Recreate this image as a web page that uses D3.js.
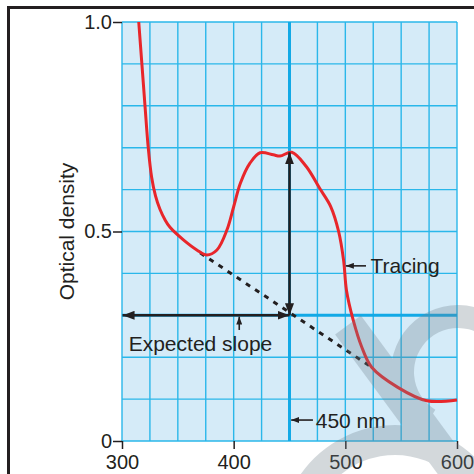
<!DOCTYPE html>
<html>
<head>
<meta charset="utf-8">
<script src="https://cdn.jsdelivr.net/npm/d3@7"></script>
<style>
  body { margin: 0; background: #fff; }
  svg { display: block; font-family: "Liberation Sans", Arial, sans-serif; }
</style>
</head>
<body>
<svg width="474" height="474"></svg>
<script>
// absorption tracing
var wavelength = [315, 317.8, 320.6, 323.5, 326.5, 330, 334, 338.5, 343, 355, 367, 376, 385, 394, 400, 406, 414.6, 423.6, 435.5, 441.5, 452, 465, 477, 487, 494, 498.5, 501, 507, 514.6, 523.6, 547, 573, 600];
var density    = [1.0, 0.9, 0.8, 0.7, 0.63, 0.585, 0.553, 0.528, 0.51, 0.48, 0.456, 0.444, 0.456, 0.504, 0.559, 0.615, 0.663, 0.688, 0.683, 0.680, 0.689, 0.655, 0.603, 0.559, 0.5, 0.43, 0.36, 0.289, 0.225, 0.176, 0.128, 0.096, 0.098];

// expected slope (dashed baseline)
var slopeWavelength = [370, 523.6];
var slopeDensity = [0.449, 0.176];

var markedWavelength = 450;
var markedDensity = 0.3;
var peakDensity = 0.689;

var xTicks = [300, 400, 500, 600];
var yTicks = [0, 0.5, 1.0];
var yTickLabels = ["0", "0.5", "1.0"];

var svg = d3.select("svg"),
    width = +svg.attr("width"),
    height = +svg.attr("height");

var x = d3.scaleLinear().domain([300, 600]).range([122, 457]);
var y = d3.scaleLinear().domain([0, 1]).range([441, 22]);

var gridColor = "#2ab7ea",
    ink = "#231f20";

// arrow heads
var defs = svg.append("defs");
function addHead(id, w, h) {
    defs.append("marker")
        .attr("id", id)
        .attr("viewBox", "0 0 " + w + " " + h)
        .attr("refX", w)
        .attr("refY", h / 2)
        .attr("markerWidth", w)
        .attr("markerHeight", h)
        .attr("markerUnits", "userSpaceOnUse")
        .attr("orient", "auto-start-reverse")
        .append("path")
        .attr("d", "M0,0 L" + w + "," + (h / 2) + " L0," + h + " Z")
        .attr("fill", ink);
}
addHead("head", 12, 9);
addHead("small", 8, 6);

// outer frame
svg.append("path")
    .attr("d", "M8.5,474 L8.5,7.5 L474,7.5")
    .attr("fill", "none")
    .attr("stroke", ink)
    .attr("stroke-width", 3);

// graph paper
svg.append("rect")
    .attr("x", x(300))
    .attr("y", y(1))
    .attr("width", x(600) - x(300))
    .attr("height", y(0) - y(1))
    .attr("fill", "#d5ebf8");

var g = svg.append("g").attr("class", "grid");
g.selectAll("line.v")
    .data(d3.range(300, 601, 25))
    .enter().append("line")
    .attr("class", "v")
    .attr("x1", function(d) { return x(d); })
    .attr("x2", function(d) { return x(d); })
    .attr("y1", y(0))
    .attr("y2", y(1))
    .attr("stroke", gridColor)
    .attr("stroke-width", 1.4);

g.selectAll("line.h")
    .data(d3.range(0, 11).map(function(i) { return i / 10; }))
    .enter().append("line")
    .attr("class", "h")
    .attr("x1", x(300))
    .attr("x2", x(600))
    .attr("y1", function(d) { return y(d); })
    .attr("y2", function(d) { return y(d); })
    .attr("stroke", gridColor)
    .attr("stroke-width", 1.4);

// the two heavy reference lines
g.append("line")
    .attr("x1", x(markedWavelength)).attr("x2", x(markedWavelength))
    .attr("y1", y(0)).attr("y2", y(1))
    .attr("stroke", "#12a9e6")
    .attr("stroke-width", 3);
g.append("line")
    .attr("x1", x(300)).attr("x2", x(600))
    .attr("y1", y(markedDensity)).attr("y2", y(markedDensity))
    .attr("stroke", "#12a9e6")
    .attr("stroke-width", 3);

// axes
var yAxis = svg.append("g")
    .attr("transform", "translate(" + x(300) + ",0)")
    .call(d3.axisLeft(y)
        .tickValues(yTicks)
        .tickSize(9)
        .tickPadding(1)
        .tickFormat(function(d, i) { return yTickLabels[i]; }));

var xAxis = svg.append("g")
    .attr("transform", "translate(0," + y(0) + ")")
    .call(d3.axisBottom(x)
        .tickValues(xTicks)
        .tickSize(8)
        .tickPadding(6)
        .tickFormat(d3.format("d")));

[xAxis, yAxis].forEach(function(a) {
    a.select(".domain").remove();
    a.selectAll(".tick line").attr("stroke", ink).attr("stroke-width", 1.5);
    a.selectAll(".tick text")
        .attr("fill", ink)
        .style("font-size", "20px")
        .style("font-family", "'Liberation Sans', Arial, sans-serif");
});

svg.append("text")
    .attr("transform", "translate(74," + y(0.5) + ") rotate(-90)")
    .attr("text-anchor", "middle")
    .attr("fill", ink)
    .style("font-size", "21px")
    .text("Optical density");

// dashed expected slope
svg.append("line")
    .attr("x1", x(slopeWavelength[0])).attr("y1", y(slopeDensity[0]))
    .attr("x2", x(slopeWavelength[1])).attr("y2", y(slopeDensity[1]))
    .attr("stroke", ink)
    .attr("stroke-width", 3)
    .attr("stroke-dasharray", "5,6");

// tracing
var line = d3.line()
    .x(function(d) { return x(d[0]); })
    .y(function(d) { return y(d[1]); })
    .curve(d3.curveCatmullRom.alpha(0.5));

svg.append("path")
    .datum(d3.zip(wavelength, density))
    .attr("d", line)
    .attr("fill", "none")
    .attr("stroke", "#e8262b")
    .attr("stroke-width", 3)
    .attr("stroke-linejoin", "round");

// big double arrows
svg.append("line")
    .attr("x1", x(markedWavelength)).attr("y1", y(markedDensity))
    .attr("x2", x(markedWavelength)).attr("y2", y(peakDensity))
    .attr("stroke", ink)
    .attr("stroke-width", 2.5)
    .attr("marker-start", "url(#head)")
    .attr("marker-end", "url(#head)");

svg.append("line")
    .attr("x1", x(300.5)).attr("y1", y(markedDensity))
    .attr("x2", x(markedWavelength)).attr("y2", y(markedDensity))
    .attr("stroke", ink)
    .attr("stroke-width", 2.5)
    .attr("marker-start", "url(#head)")
    .attr("marker-end", "url(#head)");

// labels with pointer arrows
function pointer(x1, y1, x2, y2) {
    svg.append("line")
        .attr("x1", x(x1)).attr("y1", y(y1))
        .attr("x2", x(x2)).attr("y2", y(y2))
        .attr("stroke", ink)
        .attr("stroke-width", 1.6)
        .attr("marker-end", "url(#small)");
}
function label(txt, wl, od) {
    svg.append("text")
        .attr("x", x(wl))
        .attr("y", y(od))
        .attr("fill", ink)
        .style("font-size", "21px")
        .text(txt);
}

pointer(405, 0.265, 405, 0.297);
label("Expected slope", 306, 0.215);

pointer(518.5, 0.418, 500.5, 0.418);
label("Tracing", 522.5, 0.400);

pointer(471, 0.05, 451.5, 0.05);
label("450 nm", 473.5, 0.031);

// faint publisher watermark in the corner
var wm = svg.append("g")
    .attr("fill", "#6f808c")
    .attr("stroke", "#6f808c")
    .attr("opacity", 0.3);
wm.append("line")
    .attr("x1", 348).attr("y1", 325)
    .attr("x2", 462).attr("y2", 480)
    .attr("stroke-width", 32);
wm.append("path")
    .attr("transform", "translate(458,372)")
    .attr("stroke", "none")
    .attr("d", d3.arc().innerRadius(44).outerRadius(67).startAngle(-2.6).endAngle(1.2)());
wm.append("path")
    .attr("transform", "translate(395,540)")
    .attr("stroke", "none")
    .attr("d", d3.arc().innerRadius(85).outerRadius(115).startAngle(-1.25).endAngle(0.9)());
</script>
</body>
</html>
